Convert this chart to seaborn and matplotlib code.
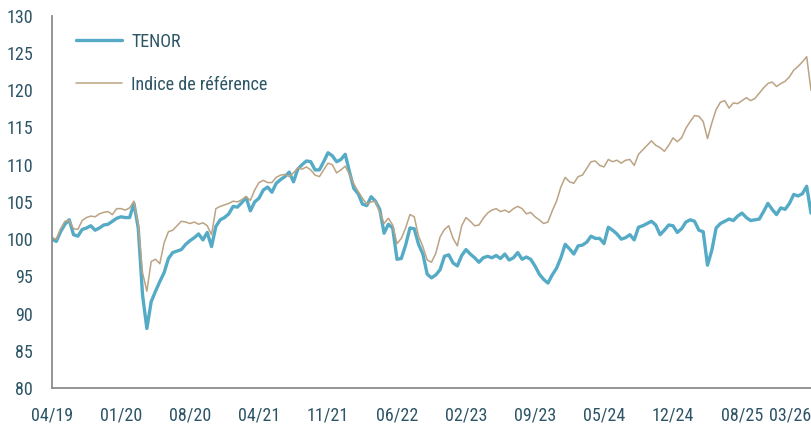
import matplotlib
matplotlib.use("Agg")
import matplotlib.pyplot as plt
from matplotlib import font_manager
import numpy as np
import pandas as pd
import seaborn as sns

tenor = [
    100.0, 99.7, 101.0, 102.0, 102.6, 100.6, 100.4, 101.3, 101.5, 101.8,
    101.2, 101.5, 101.9, 102.0, 102.4, 102.8, 103.0, 102.9, 102.9, 104.8,
    101.5, 92.5, 88.0, 91.6, 93.0, 94.3, 95.5, 97.4, 98.2, 98.4,
    98.6, 99.3, 99.8, 100.2, 100.7, 99.9, 100.9, 99.0, 101.7, 102.6,
    102.9, 103.4, 104.4, 104.3, 104.9, 105.6, 103.8, 105.0, 105.5, 106.6,
    107.0, 106.3, 107.5, 108.0, 108.4, 109.0, 107.7, 109.4, 110.0, 110.5,
    110.4, 109.3, 109.3, 110.4, 111.6, 111.2, 110.4, 110.7, 111.4, 109.0,
    106.8, 106.1, 104.7, 104.5, 105.7, 105.1, 104.0, 100.8, 102.0, 101.5,
    97.3, 97.4, 99.2, 101.5, 101.4, 99.3, 98.0, 95.3, 94.8, 95.2,
    95.9, 97.7, 97.9, 96.8, 96.4, 97.8, 98.6, 98.0, 97.5, 96.9,
    97.5, 97.7, 97.5, 97.8, 97.4, 98.0, 97.2, 97.5, 98.2, 97.3,
    97.6, 97.3, 96.4, 95.3, 94.6, 94.1, 95.2, 96.1, 97.5, 99.3,
    98.7, 98.0, 99.1, 99.2, 99.6, 100.4, 100.1, 100.1, 99.4, 101.6,
    101.2, 100.7, 100.0, 100.2, 100.6, 99.9, 101.6, 101.8, 102.1, 102.4,
    101.9, 100.6, 101.2, 101.9, 101.8, 100.9, 101.4, 102.3, 102.6, 102.4,
    101.2, 101.0, 96.5, 98.5, 101.5, 102.1, 102.4, 102.7, 102.5, 103.1,
    103.5, 102.9, 102.5, 102.6, 102.7, 103.7, 104.8, 104.0, 103.3, 104.2,
    104.0, 104.8, 106.0, 105.8, 106.1, 107.1, 103.5,
]

indice = [
    100.2, 100.0, 101.4, 102.4, 102.5, 101.4, 101.3, 102.5, 102.9, 103.1,
    103.0, 103.4, 103.6, 103.7, 103.3, 104.1, 104.1, 103.9, 104.2, 105.1,
    102.0, 95.5, 93.0, 97.0, 97.3, 96.7, 99.5, 101.0, 101.2, 101.8,
    102.4, 102.3, 102.1, 102.3, 102.0, 102.2, 101.8, 100.6, 104.1, 104.4,
    104.6, 104.8, 105.1, 105.0, 105.3, 105.7, 105.2, 106.6, 107.6, 107.9,
    107.6, 107.6, 108.3, 108.6, 108.7, 108.4, 108.9, 109.6, 109.4, 109.7,
    109.3, 108.6, 108.4, 109.3, 110.2, 110.0, 108.9, 109.3, 109.8, 108.7,
    107.4, 106.4, 105.5, 104.7, 105.0, 105.1, 103.6, 102.1, 102.8, 101.9,
    99.4, 100.1, 101.5, 103.3, 103.0, 100.4, 99.0, 97.2, 96.9, 98.1,
    100.3, 101.3, 101.8, 100.1, 99.1, 101.8, 102.9, 102.4, 101.8, 101.9,
    102.8, 103.5, 103.9, 104.1, 103.7, 103.9, 103.6, 104.1, 104.4, 104.1,
    103.4, 103.6, 103.0, 102.6, 102.1, 102.3, 103.8, 105.1, 107.0, 108.3,
    107.7, 107.5, 108.4, 108.6, 109.5, 110.4, 110.5, 109.9, 109.7, 110.7,
    110.4, 110.6, 110.2, 110.6, 110.7, 109.9, 111.4, 112.0, 112.6, 113.2,
    112.6, 112.3, 111.8, 112.6, 113.6, 113.1, 113.6, 114.9, 115.8, 116.6,
    116.5, 115.8, 113.5, 115.6, 117.4, 118.4, 118.6, 117.6, 118.3, 118.2,
    118.6, 119.0, 118.6, 118.9, 119.6, 120.3, 120.9, 121.1, 120.5, 120.9,
    121.2, 121.8, 122.7, 123.2, 123.8, 124.5, 120.0,
]

tick_labels = ["04/19", "01/20", "08/20", "04/21", "11/21", "06/22",
               "02/23", "09/23", "05/24", "12/24", "08/25", "03/26"]
y_ticks = [80, 85, 90, 95, 100, 105, 110, 115, 120, 125, 130]
obs_per_tick = 16

df = pd.DataFrame({"periode": np.arange(len(tenor)),
                   "TENOR": tenor,
                   "Indice de référence": indice})

sns.set_theme(style="white")

# police étroite si disponible
installed = {f.name for f in font_manager.fontManager.ttflist}
main_font = "Roboto"
for name in ["Roboto Condensed", "Liberation Sans Narrow", "DejaVu Sans Condensed"]:
    if name in installed:
        main_font = name
        break
plt.rcParams["font.family"] = [main_font, "DejaVu Sans"]

text_color = "#2d5566"
axis_color = "#8c8c8c"
label_size = 13 if main_font != "Roboto" else 12

fig = plt.figure(figsize=(8.11, 4.26), dpi=100)
ax = fig.add_axes([0.0641, 0.089, 0.9359, 0.874])

sns.lineplot(data=df, x="periode", y="TENOR", ax=ax, color="#55abc6",
             linewidth=2.4, label="TENOR")
sns.lineplot(data=df, x="periode", y="Indice de référence", ax=ax,
             color="#bba383", linewidth=1.1, label="Indice de référence")

ax.set_xlim(0, len(tenor) - 1)
ax.set_ylim(80, 130)
ax.set_yticks(y_ticks)
ax.set_xticks(np.arange(0, obs_per_tick * len(tick_labels), obs_per_tick))
ax.set_xticklabels(tick_labels)
ax.get_xticklabels()[-1].set_horizontalalignment("right")
ax.set_xlabel("")
ax.set_ylabel("")

for side in ["top", "right"]:
    ax.spines[side].set_visible(False)
for side in ["left", "bottom"]:
    ax.spines[side].set_color(axis_color)
    ax.spines[side].set_linewidth(1.3)

ax.tick_params(axis="both", direction="inout", length=13, width=1.3,
               color=axis_color, labelcolor=text_color, labelsize=label_size)
ax.tick_params(axis="y", pad=7)
ax.tick_params(axis="x", pad=7)

leg = ax.legend(loc="upper left", bbox_to_anchor=(0.031, 0.955),
                frameon=False, fontsize=label_size, handlelength=2.6,
                handletextpad=0.5, labelspacing=1.4, borderpad=0,
                borderaxespad=0)
for t in leg.get_texts():
    t.set_color(text_color)

fig.savefig("out.png", dpi=100)
